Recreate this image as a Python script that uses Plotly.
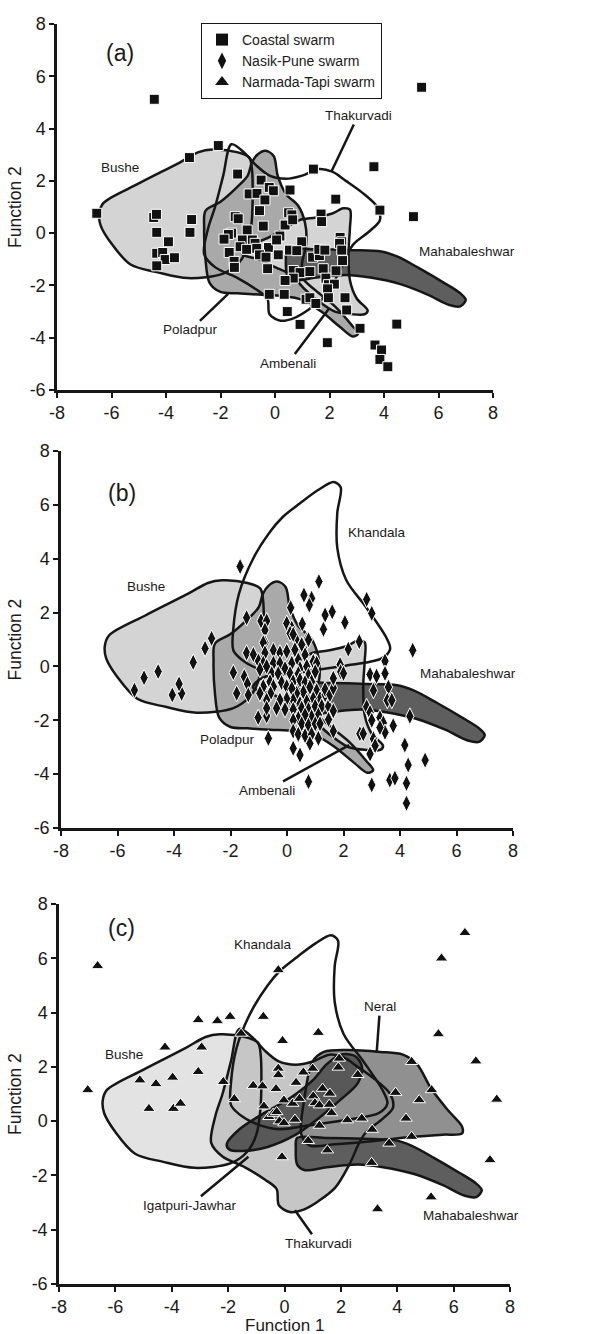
import plotly.graph_objects as go

FONT = "Arial, 'Liberation Sans', sans-serif"

# ---- field outlines in discriminant space (Function 1, Function 2) ----
BUSHE = [(-6.45, 0.75), (-6.3, 1.15), (-5.0, 1.9), (-3.5, 2.7), (-2.8, 3.1), (-2.3, 3.2),
         (-1.4, 3.1), (-0.95, 2.9), (-0.85, 2.5), (-0.85, 0.5), (-1.0, -0.5), (-1.3, -1.1),
         (-1.9, -1.55), (-3.2, -1.72), (-4.3, -1.5), (-5.3, -1.2), (-6.0, -0.4), (-6.4, 0.3)]
POLADPUR = [(-2.55, 0.85), (-2.0, 1.2), (-1.4, 1.75), (-1.0, 2.2), (-0.85, 2.7), (-0.65, 3.0),
            (-0.35, 3.15), (-0.05, 2.95), (0.1, 2.2), (0.4, 1.5), (0.85, 1.05), (1.1, 0.4),
            (1.15, -0.4), (1.0, -1.1), (1.0, -1.7), (1.5, -2.2), (2.2, -2.8), (2.8, -3.5),
            (3.05, -3.85), (2.85, -3.95), (2.4, -3.6), (1.7, -3.0), (1.0, -2.55), (0.3, -2.4),
            (-0.6, -2.35), (-1.4, -2.3), (-2.0, -2.25), (-2.4, -1.9), (-2.55, -1.0), (-2.6, 0.2)]
AMBENALI = [(0.9, 0.5), (1.5, 0.6), (2.1, 0.75), (2.5, 0.95), (2.75, 0.9), (2.75, 0.2),
            (2.7, -0.7), (2.75, -1.8), (3.0, -2.5), (3.4, -2.95), (3.3, -3.1), (2.8, -3.1),
            (2.2, -3.0), (1.6, -2.6), (1.05, -2.1), (0.6, -1.6), (0.0, -1.3), (-0.6, -1.0),
            (-1.2, -0.8), (-1.0, -0.5), (-0.3, -0.2), (0.4, 0.2)]
MAHABALESHWAR = [(0.45, -0.62), (1.5, -0.62), (2.8, -0.65), (3.9, -0.7), (4.5, -0.9),
                 (5.3, -1.35), (6.2, -1.9), (6.8, -2.3), (7.0, -2.55), (6.8, -2.8), (6.4, -2.75),
                 (5.6, -2.35), (4.6, -1.95), (3.5, -1.7), (2.6, -1.6), (1.5, -1.7), (0.7, -1.8),
                 (0.45, -1.6), (0.4, -1.0)]
THAKURVADI = [(-1.6, 3.4), (-1.1, 3.05), (-0.7, 2.6), (-0.2, 2.2), (0.4, 2.08), (1.0, 2.2),
              (1.6, 2.45), (2.1, 2.35), (2.6, 2.0), (3.2, 1.55), (3.75, 1.0), (3.85, 0.5),
              (3.5, 0.1), (2.9, -0.4), (2.65, -0.8), (2.3, -1.6), (1.8, -2.45), (1.2, -2.95),
              (0.7, -3.25), (0.2, -3.35), (-0.2, -3.1), (-0.28, -2.5), (-0.7, -2.15),
              (-1.4, -1.7), (-2.2, -1.3), (-2.6, -0.8), (-2.45, 0.2), (-2.2, 1.0), (-1.9, 2.2)]
KHANDALA = [(-1.9, 0.6), (-1.9, 1.4), (-1.7, 2.7), (-1.2, 4.0), (-0.6, 5.0), (-0.15, 5.55),
            (0.45, 6.05), (1.1, 6.55), (1.65, 6.85), (1.9, 6.65), (1.78, 5.7), (1.78, 4.4),
            (2.1, 3.2), (2.8, 2.2), (3.5, 1.1), (3.65, 0.65), (3.35, 0.3), (2.2, 0.05),
            (0.9, -0.15), (-0.2, -0.3), (-1.0, -0.1), (-1.6, 0.25)]
NERAL = [(1.0, 2.2), (1.4, 2.55), (2.2, 2.62), (3.4, 2.55), (4.2, 2.45), (4.7, 2.1), (5.2, 1.2),
         (5.8, 0.4), (6.3, -0.2), (6.3, -0.45), (5.6, -0.5), (4.3, -0.6), (3.0, -0.75),
         (1.8, -0.85), (0.9, -0.9), (0.6, -0.5), (0.7, 0.8)]
IGATPURI_JAWHAR = [(-2.05, -0.85), (-1.6, -0.3), (-0.8, 0.25), (0.2, 0.85), (1.0, 1.5),
                   (1.5, 2.1), (2.0, 2.45), (2.5, 2.4), (2.75, 2.0), (2.6, 1.4), (2.0, 0.8),
                   (1.2, 0.1), (0.4, -0.5), (-0.6, -0.95), (-1.5, -1.1), (-1.95, -1.05)]

# ---- dyke samples ----
COASTAL = [(-4.43, 5.12), (5.38, 5.58), (-2.08, 3.35), (-3.14, 2.89), (-1.37, 2.26), (1.41, 2.45),
           (3.63, 2.54), (-0.51, 2.03), (-0.95, 1.5), (-0.66, 1.52), (-0.21, 1.75), (-0.06, 1.62),
           (0.55, 1.65), (-0.37, 1.27), (2.23, 1.3), (-0.57, 0.86), (3.85, 0.88), (5.08, 0.63),
           (-6.54, 0.76), (0.5, 0.78), (0.62, 0.7), (1.69, 0.73), (-1.46, 0.63), (-3.06, 0.52),
           (-4.45, 0.6), (-4.35, 0.72), (-3.12, 0.03), (-4.34, 0.03), (-3.91, -0.33),
           (-4.34, -0.77), (-4.12, -0.74), (-4.03, -1.01), (-3.69, -0.94), (-4.34, -1.25),
           (-1.35, 0.55), (-0.43, 0.27), (-1.02, 0.12), (-1.59, 0.0), (-1.71, -0.05),
           (-1.87, -0.23), (-1.2, -0.26), (-0.83, -0.26), (-0.73, -0.39), (-1.28, -0.52),
           (-1.04, -0.62), (-0.67, -0.58), (-0.24, -0.55), (-0.57, -0.83), (-0.33, -0.92),
           (0.12, -0.83), (-1.68, -0.74), (-1.5, -1.08), (-1.49, -1.31), (-0.27, -1.36),
           (0.37, 0.31), (0.18, -0.11), (0.06, -0.26), (0.65, 0.51), (0.98, -0.33), (0.53, -0.65),
           (0.8, -0.67), (1.38, -0.92), (1.63, -0.86), (1.61, -0.62), (1.83, -0.65), (1.71, 0.44),
           (2.39, -0.16), (2.45, -0.33), (2.37, -0.39), (2.45, -0.65), (2.48, -1.05),
           (0.67, -1.43), (0.92, -1.51), (1.28, -1.47), (1.77, -1.36), (1.87, -1.72),
           (2.24, -1.44), (0.67, -1.72), (0.37, -1.81), (1.96, -1.97), (2.18, -1.95),
           (1.93, -2.13), (-0.21, -2.34), (0.34, -2.34), (1.14, -2.53), (1.28, -2.47),
           (1.5, -2.69), (1.96, -2.47), (2.57, -2.47), (2.63, -2.94), (0.45, -3.0), (0.92, -3.49),
           (3.12, -3.64), (1.92, -4.19), (4.47, -3.48), (3.67, -4.28), (3.91, -4.47),
           (3.85, -4.83), (4.14, -5.11)]

NASIK_PUNE = [(-1.66, 3.71), (1.13, 3.15), (0.6, 2.65), (0.87, 2.53), (0.79, 2.28), (0.13, 2.18),
              (2.82, 2.49), (3.0, 1.97), (1.35, 1.91), (1.6, 2.03), (-1.43, 1.81), (-0.92, 1.69),
              (-0.72, 1.69), (-0.78, 1.35), (-0.01, 1.6), (0.17, 1.42), (0.54, 1.58), (1.29, 1.38),
              (2.05, 1.63), (0.11, 1.23), (0.32, 1.0), (0.7, 0.98), (-0.78, 0.88), (-2.67, 1.04),
              (2.56, 0.92), (4.45, 0.6), (2.17, 0.64), (-2.9, 0.67), (-3.32, 0.15), (-4.56, -0.19),
              (-5.06, -0.42), (-5.4, -0.88), (-4.06, -1.06), (-3.73, -1.0), (-3.82, -0.65),
              (-1.9, -0.23), (-1.51, -0.38), (-1.4, -0.65), (-1.78, -1.0), (-1.43, 0.5),
              (-1.19, 0.44), (-1.01, 0.2), (-0.84, 0.88), (-0.78, 0.5), (-0.84, 0.12),
              (-0.96, -0.11), (-0.72, 0.0), (-0.48, 0.6), (-0.25, 0.5), (-0.01, 0.56), (0.28, 0.62),
              (0.58, 0.69), (0.76, 0.99), (0.22, 1.19), (0.52, 0.81), (-0.48, 0.12), (-0.25, 0.12),
              (-0.54, -0.27), (-0.31, -0.27), (-0.07, -0.08), (0.17, 0.12), (0.4, 0.24),
              (0.64, 0.43), (0.93, 0.18), (1.05, 0.12), (0.46, -0.08), (0.7, 0.0), (0.11, -0.27),
              (0.4, -0.27), (0.76, -0.33), (1.0, -0.2), (-0.6, -0.57), (-0.84, -0.75), (-0.96, -1.0),
              (-0.48, -0.75), (-0.19, -0.6), (-0.01, -0.75), (0.22, -0.57), (0.46, -0.5),
              (0.64, -0.6), (0.87, -0.57), (0.81, -0.77), (0.58, -0.95), (0.34, -1.0), (0.17, -0.82),
              (1.05, -0.9), (1.17, -1.2), (0.93, -1.2), (0.7, -1.3), (0.46, -1.38), (0.22, -1.25),
              (-0.01, -1.2), (-0.25, -1.25), (-0.58, -1.0), (-0.72, -1.25), (-0.37, -1.55),
              (-0.07, -1.6), (0.22, -1.6), (0.52, -1.55), (0.76, -1.6), (1.0, -1.48), (1.23, -1.48),
              (1.35, -1.05), (1.47, -1.48), (1.11, -1.8), (0.87, -1.87), (0.64, -1.8), (0.4, -1.93),
              (0.22, -2.0), (0.52, -2.13), (0.76, -2.18), (1.0, -2.13), (0.22, -2.4), (0.4, -2.52),
              (0.64, -2.57), (0.87, -2.52), (1.11, -2.67), (0.81, -2.86), (0.22, -3.04),
              (0.46, -3.29), (-0.72, -1.84), (-0.66, -2.67), (0.76, -4.28), (1.64, -2.4),
              (1.88, 0.07), (1.9, -0.2), (2.0, -0.26), (1.35, -0.86), (1.52, -1.05), (1.64, -0.8),
              (2.94, -0.3), (3.17, -0.36), (3.47, 0.2), (3.47, -0.26), (3.06, -0.89), (3.59, -0.77),
              (3.55, -1.26), (3.71, -1.26), (2.82, -1.5), (2.94, -1.71), (3.29, -1.9), (3.0, -2.0),
              (3.41, -2.1), (3.76, -2.2), (3.47, -2.45), (3.29, -2.27), (3.06, -2.69),
              (3.12, -2.94), (2.94, -3.25), (2.58, -2.5), (2.7, -2.5), (4.35, -1.85),
              (4.17, -2.92), (4.89, -3.48), (4.29, -3.66), (3.64, -4.22), (3.82, -4.15),
              (4.23, -4.34), (4.23, -5.08), (3.0, -4.4), (1.64, -0.44), (1.64, -1.65),
              (1.47, -1.97), (1.17, -2.13), (-1.02, -1.9), (-0.72, -1.55), (-1.37, -1.06)]

NARMADA_TAPI = [(-6.63, 5.72), (-0.22, 5.57), (6.4, 6.94), (5.57, 6.0), (-3.06, 3.73), (-2.38, 3.69),
                (-1.93, 3.85), (-0.75, 3.85), (1.2, 3.26), (-0.07, 2.96), (-1.54, 3.23), (5.46, 3.21),
                (-4.24, 2.72), (-2.94, 2.72), (1.94, 2.31), (4.51, 2.19), (6.79, 2.21), (-3.06, 1.82),
                (-0.22, 1.94), (0.67, 1.8), (1.0, 1.94), (1.91, 1.98), (-0.22, 1.7), (-6.98, 1.15),
                (-5.13, 1.51), (-4.56, 1.37), (-3.97, 1.61), (-4.81, 0.46), (-3.94, 0.46),
                (-3.69, 0.65), (-2.17, 1.45), (-1.78, 0.82), (-1.11, 1.31), (-0.78, 1.29),
                (-0.3, 1.19), (0.41, 1.42), (2.6, 1.71), (-0.73, 0.55), (-0.55, 0.16), (-0.4, 0.28),
                (-0.28, 0.34), (-0.18, 0.0), (-0.02, 0.77), (-0.02, -0.07), (0.29, 0.65), (0.37, 0.06),
                (0.53, 0.83), (1.02, 0.92), (1.08, 0.67), (1.24, 0.59), (1.35, 1.2), (1.61, 1.02),
                (1.59, 0.61), (1.67, 0.3), (1.24, -0.16), (2.23, 0.04), (2.74, 0.1), (3.11, -0.31),
                (3.94, 1.05), (4.31, 0.1), (4.78, 0.78), (5.22, 1.15), (4.51, -0.57), (3.71, -0.82),
                (0.84, -0.72), (1.52, -1.07), (-0.09, -1.32), (3.09, -1.53), (7.29, -1.43),
                (7.53, 0.8), (5.2, -2.8), (3.3, -3.24)]

X_TICKS = [-8, -6, -4, -2, 0, 2, 4, 6, 8]
X_TICKTEXT = ["-8", "-6", "-4", "-2", "0", "2", "4", "6", "8"]
Y_TICKS = [-6, -4, -2, 0, 2, 4, 6, 8]
Y_TICKTEXT = ["-6", "-4", "-2", "0", "2", "4", "6", "8"]

W, H = 604, 1334
# plot-area boxes in pixels: (left, right, top, bottom)
PANEL_BOX = [(57, 493, 24, 390), (61, 513, 451, 828), (59, 510, 904, 1284)]
INK = "#161616"

fig = go.Figure()


def closed(pts):
    xs = [p[0] for p in pts] + [pts[0][0]]
    ys = [p[1] for p in pts] + [pts[0][1]]
    return xs, ys


def add_field(pts, fill, xa, ya):
    xs, ys = closed(pts)
    if fill is not None:
        fig.add_trace(go.Scatter(x=xs, y=ys, mode="lines", fill="toself", fillcolor=fill,
                                 line=dict(width=0, shape="spline", smoothing=0.9, color=fill),
                                 hoverinfo="skip", showlegend=False, xaxis=xa, yaxis=ya))


def add_outline(pts, xa, ya):
    xs, ys = closed(pts)
    fig.add_trace(go.Scatter(x=xs, y=ys, mode="lines",
                             line=dict(width=2.5, color=INK, shape="spline", smoothing=0.9),
                             hoverinfo="skip", showlegend=False, xaxis=xa, yaxis=ya))


def add_points(pts, symbol, size, xa, ya):
    fig.add_trace(go.Scatter(x=[p[0] for p in pts], y=[p[1] for p in pts], mode="markers",
                             marker=dict(symbol=symbol, size=size, color="#111111",
                                         line=dict(color="white", width=1)),
                             showlegend=False, xaxis=xa, yaxis=ya))


panels = [
    dict(xa="x", ya="y",
         fields=[(BUSHE, "#d4d4d4"), (THAKURVADI, None), (POLADPUR, "#a9a9a9"),
                 (AMBENALI, "#d4d4d4"), (MAHABALESHWAR, "#5e5e5e")],
         points=(COASTAL, "square", 10)),
    dict(xa="x2", ya="y2",
         fields=[(BUSHE, "#d4d4d4"), (KHANDALA, None), (POLADPUR, "#a9a9a9"),
                 (AMBENALI, "#d4d4d4"), (MAHABALESHWAR, "#5e5e5e")],
         points=(NASIK_PUNE, "diamond-tall", 12)),
    dict(xa="x3", ya="y3",
         fields=[(BUSHE, "#e3e3e3"), (KHANDALA, None), (THAKURVADI, "#c6c6c6"),
                 (NERAL, "#909090"), (IGATPURI_JAWHAR, "#585858"), (MAHABALESHWAR, "#5e5e5e")],
         points=(NARMADA_TAPI, "triangle-up", 11)),
]

for p in panels:
    for pts, fill in p["fields"]:
        add_field(pts, fill, p["xa"], p["ya"])
    for pts, fill in p["fields"]:
        add_outline(pts, p["xa"], p["ya"])
    pts, sym, size = p["points"]
    add_points(pts, sym, size, p["xa"], p["ya"])

# legend entries
for name, sym in [("Coastal swarm", "square"), ("Nasik-Pune swarm", "diamond-tall"),
                  ("Narmada-Tapi swarm", "triangle-up")]:
    fig.add_trace(go.Scatter(x=[None], y=[None], mode="markers", name=name,
                             marker=dict(symbol=sym, size=12, color="#111111"),
                             xaxis="x", yaxis="y"))

axis_common = dict(showline=True, linewidth=2.5, linecolor=INK, ticks="outside",
                   ticklen=5, tickwidth=2, tickcolor=INK, showgrid=False,
                   zeroline=False, automargin=False,
                   tickfont=dict(family=FONT, size=18, color="#1a1a1a"), mirror=False)

layout = dict(template="none", width=W, height=H, margin=dict(l=0, r=0, t=0, b=0, pad=0),
              paper_bgcolor="white", plot_bgcolor="white",
              font=dict(family=FONT, color="#1a1a1a"))

for i, (l, r, t, b) in enumerate(PANEL_BOX):
    sfx = "" if i == 0 else str(i + 1)
    layout["xaxis" + sfx] = dict(axis_common, domain=[l / W, r / W], range=[-8, 8],
                                 tickvals=X_TICKS, ticktext=X_TICKTEXT,
                                 anchor="y" + sfx)
    layout["yaxis" + sfx] = dict(axis_common, domain=[1 - b / H, 1 - t / H], range=[-6, 8],
                                 tickvals=Y_TICKS, ticktext=Y_TICKTEXT,
                                 anchor="x" + sfx)

layout["legend"] = dict(x=201 / W, y=1 - 23 / H, xanchor="left", yanchor="top",
                        bgcolor="white", bordercolor=INK, borderwidth=1,
                        font=dict(family=FONT, size=14, color="#1a1a1a"),
                        itemwidth=30, tracegroupgap=0)
fig.update_layout(**layout)

ann = []


def label(text, x, y, xa, ya, size=13.5):
    ann.append(dict(text=text, x=x, y=y, xref=xa, yref=ya, showarrow=False,
                    xanchor="center", yanchor="middle",
                    font=dict(family=FONT, size=size, color="#1a1a1a")))


def leader(text, tx, ty, px, py, xa, ya):
    ann.append(dict(text=text, x=px, y=py, ax=tx, ay=ty, xref=xa, yref=ya,
                    axref=xa, ayref=ya, showarrow=True, arrowhead=0, arrowwidth=2.5,
                    arrowcolor=INK, standoff=0,
                    font=dict(family=FONT, size=13.5, color="#1a1a1a")))


# panel (a)
label("(a)", -5.7, 6.9, "x", "y", size=23)
label("Bushe", -5.7, 2.5, "x", "y")
leader("Thakurvadi", 3.05, 4.5, 2.08, 2.38, "x", "y")
label("Mahabaleshwar", 7.05, -0.72, "x", "y")
leader("Poladpur", -3.1, -3.7, -1.72, -2.32, "x", "y")
leader("Ambenali", 0.48, -4.97, 2.0, -2.86, "x", "y")
# panel (b)
label("(b)", -5.85, 6.45, "x2", "y2", size=23)
label("Bushe", -5.0, 2.95, "x2", "y2")
label("Khandala", 3.17, 4.97, "x2", "y2")
label("Mahabaleshwar", 6.4, -0.25, "x2", "y2")
label("Poladpur", -2.1, -2.73, "x2", "y2")
leader("Ambenali", -0.72, -4.6, 2.2, -2.92, "x2", "y2")
# panel (c)
label("(c)", -5.8, 7.1, "x3", "y3", size=23)
label("Khandala", -0.75, 6.5, "x3", "y3")
leader("Neral", 3.39, 4.22, 3.27, 2.52, "x3", "y3")
label("Bushe", -5.7, 2.45, "x3", "y3")
leader("Igatpuri-Jawhar", -3.35, -3.1, -1.28, -1.31, "x3", "y3")
leader("Thakurvadi", 1.2, -4.5, 0.37, -3.28, "x3", "y3")
label("Mahabaleshwar", 6.6, -3.46, "x3", "y3")

# axis titles
for (l, r, t, b) in PANEL_BOX:
    ann.append(dict(text="Function 2", x=15 / W, y=1 - ((t + b) / 2) / H, xref="paper",
                    yref="paper", showarrow=False, textangle=-90,
                    xanchor="center", yanchor="middle",
                    font=dict(family=FONT, size=17.5, color="#1a1a1a")))
ann.append(dict(text="Function 1", x=(59 + 510) / 2 / W, y=1 - 1325 / H, xref="paper",
                yref="paper", showarrow=False, xanchor="center", yanchor="middle",
                font=dict(family=FONT, size=17, color="#1a1a1a")))

fig.update_layout(annotations=ann)
fig.write_html("out.html")
